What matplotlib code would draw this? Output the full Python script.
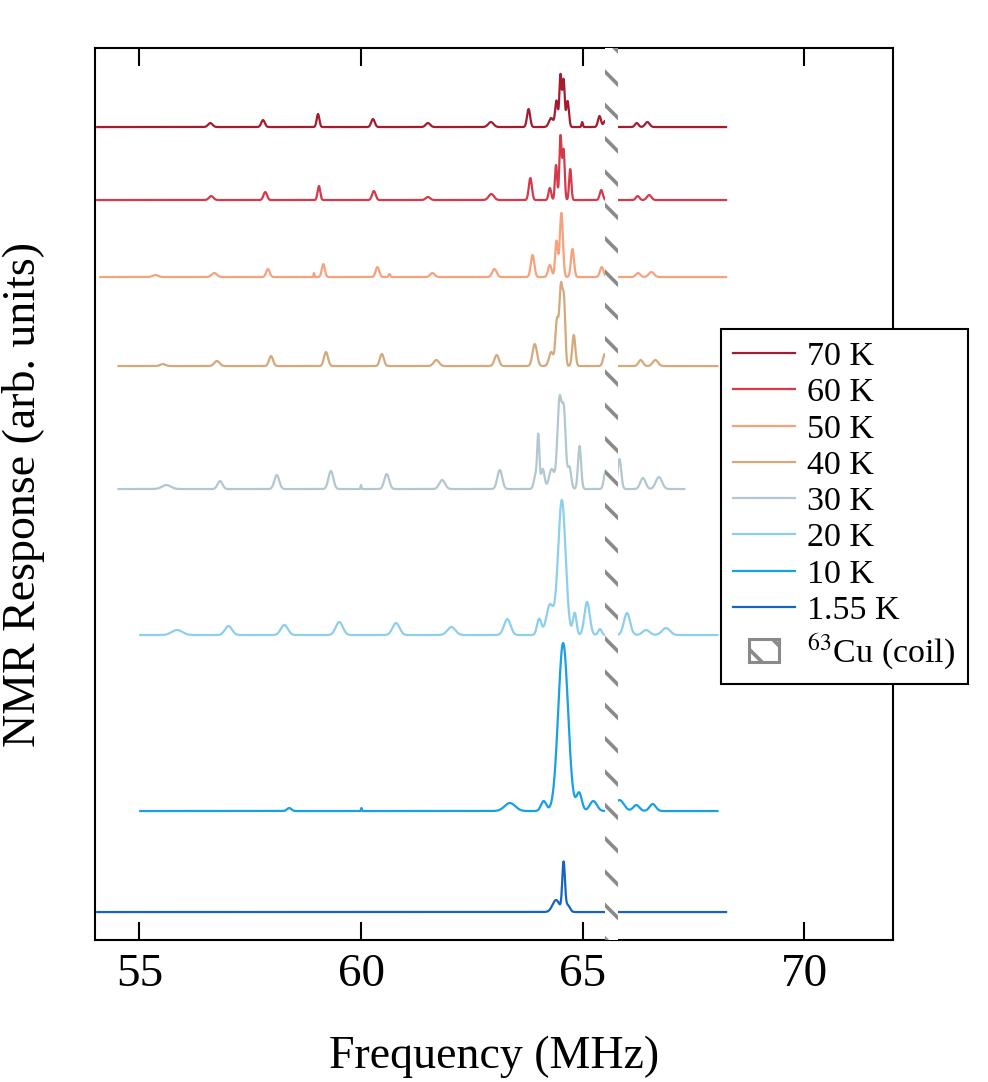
import numpy as np
import matplotlib
matplotlib.use("Agg")
import matplotlib.pyplot as plt
from matplotlib.patches import Rectangle
from matplotlib.legend_handler import HandlerPatch

plt.rcParams["font.family"] = ["Liberation Serif", "DejaVu Serif"]
plt.rcParams["mathtext.fontset"] = "stix"
plt.rcParams["hatch.linewidth"] = 2.6

# temperature labels, colours, baseline offsets (arb. units) and frequency span (MHz)
labels = ["70 K", "60 K", "50 K", "40 K", "30 K", "20 K", "10 K", "1.55 K"]
colors = ["#a51c30", "#d63a4a", "#f6a27c", "#d4aa7d",
          "#b2c7cf", "#8ccfec", "#17a0e3", "#1565c0"]
offsets = [813, 740, 663, 574, 451, 305, 129, 28]
f_start = [54.05, 54.05, 54.12, 54.53, 54.53, 55.02, 55.02, 54.05]
f_stop = [68.24, 68.24, 68.24, 68.04, 67.30, 68.04, 68.04, 68.24]

# peaks: (centre MHz, height, gaussian width MHz)
peaks_70K = [(56.60, 4, 0.05), (57.79, 7, 0.04), (59.03, 13, 0.03), (60.27, 8, 0.04),
             (61.51, 4, 0.05), (62.93, 5, 0.06), (63.78, 18, 0.035), (64.29, 9, 0.05),
             (64.41, 26, 0.03), (64.50, 52, 0.025), (64.57, 47, 0.025), (64.66, 26, 0.03),
             (64.99, 5, 0.015), (65.38, 11, 0.035), (65.50, 6, 0.03),
             (66.22, 4, 0.04), (66.46, 5, 0.05)]
peaks_60K = [(56.62, 4, 0.05), (57.84, 8, 0.04), (59.05, 14, 0.03), (60.29, 9, 0.04),
             (61.51, 3, 0.05), (62.94, 6, 0.06), (63.82, 22, 0.035), (64.26, 12, 0.03),
             (64.40, 35, 0.025), (64.50, 64, 0.025), (64.57, 50, 0.025), (64.72, 31, 0.025),
             (65.42, 10, 0.035), (66.24, 4, 0.04), (66.50, 5, 0.05)]
peaks_50K = [(55.36, 2, 0.06), (56.69, 4, 0.06), (57.90, 8, 0.04), (58.94, 4, 0.01),
             (59.15, 13, 0.035), (60.37, 10, 0.04), (60.64, 3, 0.02), (61.61, 4, 0.05),
             (63.01, 8, 0.05), (63.87, 22, 0.04), (64.26, 12, 0.04), (64.41, 36, 0.03),
             (64.52, 64, 0.035), (64.77, 28, 0.035), (65.43, 10, 0.04),
             (66.25, 4, 0.05), (66.55, 5, 0.06)]
peaks_40K = [(55.53, 2, 0.06), (56.75, 5, 0.06), (57.97, 10, 0.045), (59.21, 14, 0.045),
             (60.47, 12, 0.045), (61.70, 6, 0.06), (63.06, 11, 0.05), (63.92, 22, 0.05),
             (64.29, 14, 0.05), (64.42, 45, 0.035), (64.51, 78, 0.035), (64.58, 60, 0.03),
             (64.80, 31, 0.035), (65.50, 12, 0.04), (66.31, 6, 0.05), (66.64, 6, 0.06)]
peaks_30K = [(55.61, 4, 0.10), (56.82, 8, 0.055), (58.10, 14, 0.055), (59.32, 18, 0.055),
             (60.00, 4, 0.01), (60.58, 15, 0.055), (61.83, 9, 0.065), (63.13, 19, 0.055),
             (63.94, 14, 0.04), (64.00, 50, 0.025), (64.10, 20, 0.04), (64.30, 20, 0.06),
             (64.48, 90, 0.05), (64.58, 70, 0.04), (64.70, 22, 0.04), (64.93, 43, 0.035),
             (65.52, 18, 0.04), (65.83, 30, 0.04), (66.36, 11, 0.06), (66.72, 12, 0.07)]
peaks_20K = [(55.85, 5, 0.12), (57.01, 9, 0.08), (58.27, 10, 0.08), (59.51, 13, 0.08),
             (60.79, 12, 0.08), (62.04, 8, 0.09), (63.30, 16, 0.075), (64.02, 16, 0.05),
             (64.26, 30, 0.08), (64.53, 135, 0.085), (64.82, 22, 0.04), (65.10, 33, 0.06),
             (65.39, 6, 0.04), (66.00, 22, 0.07), (66.43, 5, 0.08), (66.88, 7, 0.09)]
peaks_10K = [(58.38, 3, 0.05), (60.01, 3, 0.01), (63.36, 8, 0.12), (64.12, 10, 0.06),
             (64.56, 168, 0.11), (64.92, 18, 0.06), (65.24, 10, 0.08), (65.83, 11, 0.10),
             (66.21, 6, 0.07), (66.58, 7, 0.07)]
peaks_155K = [(64.40, 12, 0.08), (64.57, 48, 0.03), (64.66, 7, 0.05)]
all_peaks = [peaks_70K, peaks_60K, peaks_50K, peaks_40K,
             peaks_30K, peaks_20K, peaks_10K, peaks_155K]

# 63Cu coil background line (MHz)
cu_lo, cu_hi = 65.50, 65.79

fig = plt.figure(figsize=(9.88, 10.82), dpi=100)
ax = fig.add_axes([0.0962, 0.1312, 0.8076, 0.8244])

for lab, col, off, lo, hi, pk in zip(labels, colors, offsets, f_start, f_stop, all_peaks):
    f = np.arange(lo, hi, 0.005)
    y = np.full_like(f, float(off))
    for c, h, w in pk:
        y += h * np.exp(-0.5 * ((f - c) / w) ** 2)
    ax.plot(f, y, color=col, lw=1.6, label=lab, zorder=2)

ax.axvspan(cu_lo, cu_hi, facecolor="white", edgecolor="#8a8a8a", hatch="\\",
           lw=0, zorder=3)
cu_proxy = Rectangle((0, 0), 1, 1, facecolor="white", edgecolor="#8a8a8a",
                     hatch="\\", lw=2.2)

ax.set_xlim(54.0, 72.0)
ax.set_ylim(0, 892)
ax.set_xticks([55, 60, 65, 70])
ax.set_yticks([])
ax.tick_params(axis="x", which="both", direction="in", top=True, bottom=True,
               length=13, width=1.5, labelsize=34, pad=10)
for s in ax.spines.values():
    s.set_linewidth(1.5)

ax.set_xlabel("Frequency (MHz)", fontsize=33, labelpad=28)
ax.set_ylabel("NMR Response (arb. units)", fontsize=33, labelpad=36)


def small_rect(legend, orig_handle, xdescent, ydescent, width, height, fontsize):
    return Rectangle((width * 0.25 - xdescent, -ydescent),
                     width * 0.5, height * 0.95)


handles, labs = ax.get_legend_handles_labels()
handles.append(cu_proxy)
labs.append(r"$^{63}$Cu (coil)")
leg = ax.legend(handles, labs, loc="upper left", fontsize=24.5,
                bbox_to_anchor=(721 / 988, 1 - 329 / 1082), bbox_transform=fig.transFigure,
                borderaxespad=0, frameon=True, fancybox=False, edgecolor="black",
                framealpha=1, handlelength=1.8, handletextpad=0.38, labelspacing=0.16,
                borderpad=0.36,
                handler_map={cu_proxy: HandlerPatch(patch_func=small_rect)})
leg.get_frame().set_linewidth(1.5)
leg.set_zorder(5)

fig.savefig("out.png", dpi=100)
